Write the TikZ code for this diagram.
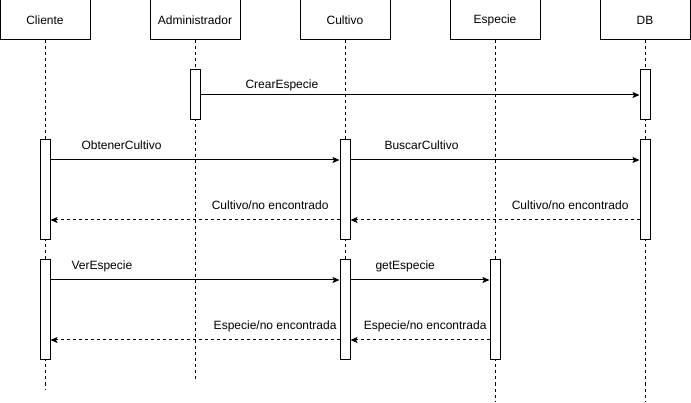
\documentclass[tikz,border=0pt]{standalone}
\usepackage{fontspec}
\setmainfont{Liberation Sans}
\usetikzlibrary{arrows.meta}

\begin{document}
\begin{tikzpicture}[
  x=1pt, y=-1pt, line width=1pt,
  head/.style={rectangle, draw, minimum width=90pt, minimum height=40pt, inner sep=0pt, font=\fontsize{12}{14}\selectfont},
  act/.style={rectangle, draw, fill=white, minimum width=10pt, inner sep=0pt},
  life/.style={dash pattern=on 3pt off 3pt},
  msg/.style={-{Stealth[length=7pt, width=6pt, inset=1.5pt]}},
  ret/.style={msg, dash pattern=on 3pt off 3pt},
  lbl/.style={inner sep=0pt, font=\fontsize{12}{14}\selectfont}
]
\useasboundingbox (0,0) rectangle (691,403);

% lifeline heads
\node[head] (cli) at (45,20) {Cliente};
\node[head] (adm) at (195,20) {Administrador};
\node[head] (cul) at (345,20) {Cultivo};
\node[head] (esp) at (495,20) {Especie};
\node[head] (db) at (645,20) {DB};

\coordinate (cliend) at (45,390);
\coordinate (admend) at (195,380);
\coordinate (culend) at (345,360);
\coordinate (espend) at (495,401);
\coordinate (dbend) at (645,401);

\draw[life] (cli) -- (cliend);
\draw[life] (adm) -- (admend);
\draw[life] (cul) -- (culend);
\draw[life] (esp) -- (espend);
\draw[life] (db) -- (dbend);

% activations
\node[act, minimum height=50pt] (adm1) at (195,95) {};
\node[act, minimum height=50pt] (db1) at (645,95) {};
\node[act, minimum height=100pt] (cli1) at (45,190) {};
\node[act, minimum height=100pt] (cul1) at (345,190) {};
\node[act, minimum height=100pt] (db2) at (645,190) {};
\node[act, minimum height=100pt] (cli2) at (45,310) {};
\node[act, minimum height=100pt] (cul2) at (345,310) {};
\node[act, minimum height=100pt] (esp1) at (495,310) {};

% messages
\draw[msg] (adm1.east) -- (db1.west);
\draw[msg] (cli1.east |- 0,160) -- (cul1.west |- 0,160);
\draw[msg] (cul1.east |- 0,160) -- (db2.west |- 0,160);
\draw[ret] (db2.west |- 0,220) -- (cul1.east |- 0,220);
\draw[ret] (cul1.west |- 0,220) -- (cli1.east |- 0,220);
\draw[msg] (cli2.east |- 0,280) -- (cul2.west |- 0,280);
\draw[msg] (cul2.east |- 0,280) -- (esp1.west |- 0,280);
\draw[ret] (esp1.west |- 0,340) -- (cul2.east |- 0,340);
\draw[ret] (cul2.west |- 0,340) -- (cli2.east |- 0,340);

% labels
\node[lbl, anchor=base west] (l1) at (245,89) {CrearEspecie};
\node[lbl, anchor=base west] (l2) at (81,150) {ObtenerCultivo};
\node[lbl, anchor=base west] (l3) at (384,150) {BuscarCultivo};
\node[lbl, anchor=base east] (l4) at (629,210) {Cultivo/no encontrado};
\node[lbl, anchor=base east] (l5) at (329,210) {Cultivo/no encontrado};
\node[lbl, anchor=base west] (l6) at (71,270) {VerEspecie};
\node[lbl, anchor=base west] (l7) at (375,270) {getEspecie};
\node[lbl, anchor=base east] (l8) at (487,330) {Especie/no encontrada};
\node[lbl, anchor=base east] (l9) at (337,330) {Especie/no encontrada};
\end{tikzpicture}
\end{document}
